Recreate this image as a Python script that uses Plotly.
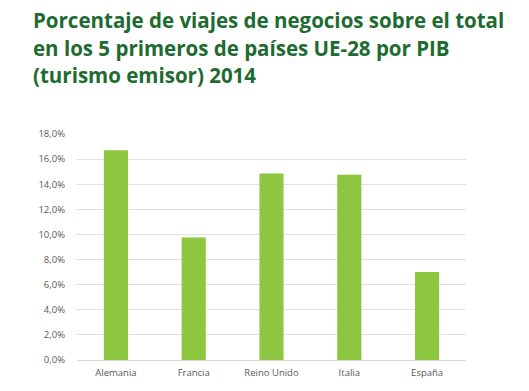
import plotly.graph_objects as go

paises = ["Alemania", "Francia", "Reino Unido", "Italia", "España"]
porcentajes = [16.7, 9.75, 14.85, 14.75, 7.0]
tick_vals = [0, 2, 4, 6, 8, 10, 12, 14, 16, 18]
tick_text = ["0,0%", "2,0%", "4,0%", "6,0%", "8,0%", "10,0%", "12,0%", "14,0%", "16,0%", "18,0%"]
titulo_lineas = [
    "Porcentaje de viajes de negocios sobre el total",
    "en los 5 primeros de países UE-28 por PIB",
    "(turismo emisor) 2014",
]

W, H = 529, 391
L, R, T, B = 77, 63, 134, 31
PH = H - T - B
PW = W - L - R

fig = go.Figure(go.Bar(
    x=paises, y=porcentajes,
    marker=dict(color="#8dc63f", line=dict(width=0)),
    hoverinfo="skip",
))

line_centers = [19.5, 47.5, 75.0]  # cap-centre positions in pixels
for txt, yc in zip(titulo_lineas, line_centers):
    fig.add_annotation(
        text=txt, showarrow=False, align="left",
        xref="paper", yref="paper",
        x=(31 - L) / PW, xanchor="left",
        y=1 + (T - yc) / PH, yanchor="middle",
        font=dict(family="Open Sans", size=20.5, color="#1d6b30", weight="bold"),
    )

fig.update_layout(
    width=W, height=H,
    paper_bgcolor="white", plot_bgcolor="white",
    margin=dict(l=L, r=R, t=T, b=B, autoexpand=False),
    bargap=0.69,
    showlegend=False,
    xaxis=dict(
        showgrid=False, showline=False, ticks="",
        tickfont=dict(family="Open Sans", size=9.5, color="#595959"),
        ticklabelstandoff=5,
        automargin=False,
    ),
    yaxis=dict(
        range=[0, 18], tickvals=tick_vals, ticktext=tick_text,
        showgrid=True, gridcolor="#e0e0e0", gridwidth=1,
        zeroline=True, zerolinecolor="#d9d9d9", zerolinewidth=1,
        showline=False, ticks="", ticklabelstandoff=11,
        tickfont=dict(family="Open Sans", size=9.5, color="#595959"),
        automargin=False,
    ),
)

fig.write_html(
    "out.html",
    config={"displayModeBar": False},
    post_script="document.body.style.margin='0';document.body.style.overflow='hidden';",
)
